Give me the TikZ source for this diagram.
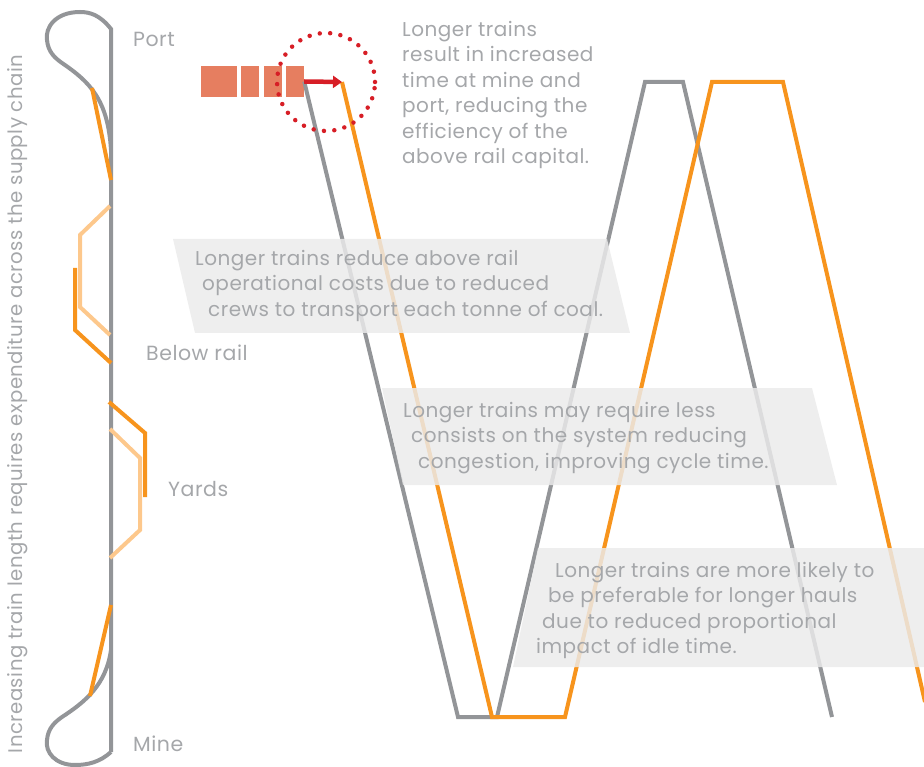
\documentclass[tikz,border=0pt]{standalone}
\usepackage{fontspec}
\setmainfont{Poppins}[LetterSpace=2.5]
\usetikzlibrary{arrows.meta, positioning}
\definecolor{trackgrey}{RGB}{147,149,152}
\definecolor{textgrey}{RGB}{165,167,170}
\definecolor{haulorange}{RGB}{247,148,29}
\definecolor{spurorange}{RGB}{253,200,140}
\definecolor{wagonred}{RGB}{230,126,96}
\definecolor{alertred}{RGB}{215,30,38}
\definecolor{panelgrey}{RGB}{235,235,235}
\tikzset{
  track/.style={draw=trackgrey, line width=4pt},
  haul/.style={draw=haulorange, line width=4pt},
  spur/.style={draw=spurorange, line width=4pt},
  wagon/.style={fill=wagonred, draw=none, inner sep=0pt, minimum height=31pt},
  panel/.style={fill=panelgrey, fill opacity=0.83, draw=none},
  note/.style={font=\fontsize{20}{25.5}\selectfont, text=textgrey, align=left,
    anchor=north west, inner sep=0pt},
  place/.style={font=\fontsize{20.5}{24}\selectfont, text=textgrey, anchor=west, inner sep=0pt}
}

\begin{document}
\begin{tikzpicture}[x=1pt, y=-1pt]
  \clip (0,0) rectangle (924,767);

  % Supply chain track
  \draw[track] (111,752) -- (111,29)
    .. controls (100,15) and (90,12) .. (80,12)
    .. controls (55,12) and (45,28) .. (47,40)
    .. controls (48,52) and (55,58) .. (62,63)
    .. controls (90,82) and (108,100) .. (111,150);
  \draw[track] (111,752)
    .. controls (100,762) and (88,765) .. (75,765)
    .. controls (55,765) and (45,752) .. (47,740)
    .. controls (48,728) and (55,722) .. (62,717)
    .. controls (85,702) and (106,685) .. (111,650);

  \draw[spur] (110,206) -- (80,235) -- (80,307) -- (110,335);
  \draw[spur] (110,429) -- (140,458) -- (140,530) -- (110,558);
  \draw[haul] (92,88) -- (111,180);
  \draw[haul] (75,268) -- (75,330) -- (111,363);
  \draw[haul] (109,402) -- (145,433) -- (145,497);
  \draw[haul] (111,605) -- (90,696);

  \node[place] (port) at (133,39) {Port};
  \node[place] (belowrail) at (146,353) {Below rail};
  \node[place] (yards) at (168,489) {Yards};
  \node[place] (mine) at (133,744) {Mine};
  \node[font=\fontsize{19.7}{22}\selectfont, text=textgrey, rotate=90, inner sep=0pt] (axis) at (18,404)
    {Increasing train length requires expenditure across the supply chain};

  % Train and cycles
  \node[wagon, minimum width=36pt] (w1) at (219,81.5) {};
  \node[wagon, minimum width=18pt] (w2) at (250,81.5) {};
  \node[wagon, minimum width=18pt] (w3) at (273,81.5) {};
  \node[wagon, minimum width=18pt] (w4) at (295,81.5) {};
  \coordinate (longtop) at (342,82);

  \draw[track] (w4.east) -- (458,717) -- (497,717) -- (645,82) -- (683,82) -- (832,717);
  \draw[haul] (longtop) -- (492,717) -- (565,717) -- (712,82) -- (783,82) -- (925,702);

  \draw[-{Triangle[length=9pt, width=12pt]}, alertred, line width=4.5pt] (w4.east) -- (longtop);
  \node[circle, draw=alertred, line width=4.5pt, line cap=round, dash pattern=on 0pt off 10.4pt,
    minimum size=98pt] (delay) at (326,82) {};

  \node[note] (cycletext) at (402,21) {Longer trains\\result in increased\\time at mine and\\port, reducing the\\efficiency of the\\above rail capital.};

  % Notes
  \fill[panel] (173,239) -- (607,239) -- (630,333) -- (195,333) -- cycle;
  \node[note] (costtext) at (195,250) {Longer trains reduce above rail\\\hspace*{7pt}operational costs due to reduced\\\hspace*{13pt}crews to transport each tonne of coal.};

  \fill[panel] (382,388) -- (812,388) -- (837,485) -- (403,485) -- cycle;
  \node[note] (congtext) at (403,402) {Longer trains may require less\\\hspace*{8pt}consists on the system reducing\\\hspace*{15pt}congestion, improving cycle time.};

  \fill[panel] (538,548) -- (940,548) -- (940,667) -- (513,667) -- cycle;
  \node[note] (haultext) at (536,562) {\hspace*{19pt}Longer trains are more likely to\\\hspace*{12pt}be preferable for longer hauls\\\hspace*{6pt}due to reduced proportional\\impact of idle time.};
\end{tikzpicture}
\end{document}
